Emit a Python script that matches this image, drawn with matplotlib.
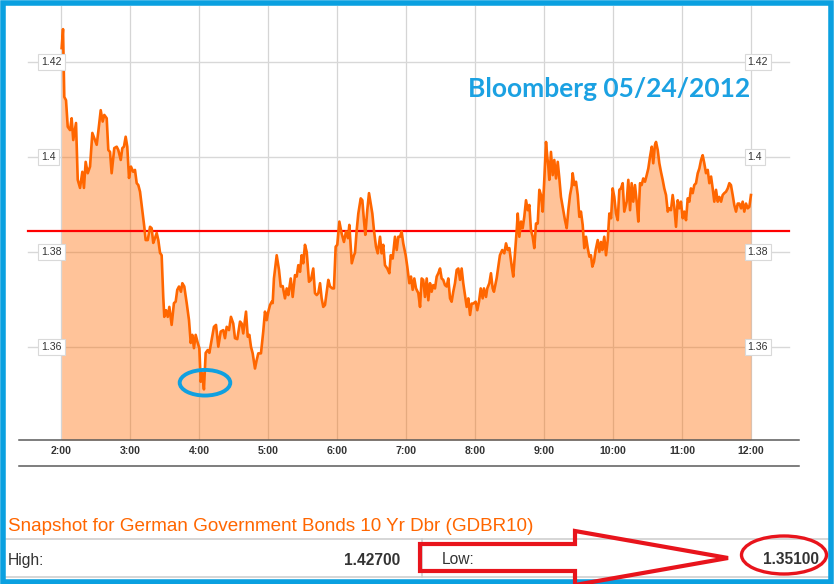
import matplotlib
matplotlib.use("Agg")
import matplotlib.pyplot as plt
from matplotlib.patches import Ellipse, Polygon, Rectangle
from matplotlib.lines import Line2D
from matplotlib.transforms import blended_transform_factory

plt.rcParams['font.family'] = ['Liberation Sans', 'DejaVu Sans']

# ---------------- data ----------------
minutes_after_2 = [
    0.3, 1.5, 2.6, 4.1, 5.6, 7.6, 9.0, 10.4, 12.8, 14.3,
    16.3, 18.3, 19.7, 21.2, 23.0, 25.0, 27.0, 28.7, 30.8, 32.2,
    34.3, 36.0, 37.4, 39.5, 40.9, 42.4, 43.8, 46.1, 48.2, 49.6,
    51.7, 53.1, 54.5, 56.0, 57.4, 58.9, 60.6, 62.6, 64.1, 65.6,
    67.0, 68.5, 70.5, 72.2, 73.4, 75.2, 77.2, 78.6, 80.0, 81.5,
    83.0, 84.4, 85.9, 87.3, 88.7, 89.6, 91.1, 92.6, 94.0, 96.0,
    98.0, 99.5, 100.9, 102.4, 104.1, 105.3, 107.0, 109.1, 111.1, 112.6,
    114.0, 115.4, 116.9, 118.7, 120.1, 121.3, 122.7, 124.1, 125.6, 127.4,
    128.8, 130.8, 132.8, 134.6, 136.6, 138.7, 140.9, 142.4, 143.9, 145.9,
    147.6, 149.6, 151.1, 153.1, 155.5, 156.9, 158.3, 160.7, 162.2, 163.6,
    165.0, 166.5, 168.5, 170.0, 171.4, 173.7, 175.7, 177.2, 178.7, 180.1,
    181.6, 183.1, 183.9, 185.0, 187.4, 189.4, 190.9, 192.6, 194.6, 196.1,
    197.5, 199.6, 201.3, 203.3, 204.8, 206.2, 207.7, 209.1, 210.5, 212.0,
    213.5, 215.5, 217.2, 219.2, 220.7, 222.2, 223.6, 225.1, 226.5, 227.9,
    229.4, 230.9, 232.3, 233.8, 235.8, 237.2, 238.7, 240.1, 241.9, 243.9,
    245.9, 247.7, 249.4, 250.6, 252.7, 254.6, 255.5, 257.0, 258.4, 260.5,
    261.9, 263.3, 264.5, 266.2, 267.7, 269.2, 270.6, 272.0, 273.8, 275.3,
    277.3, 278.7, 280.1, 281.6, 283.6, 285.4, 286.6, 288.3, 290.3, 291.8,
    293.2, 294.7, 296.1, 297.5, 299.6, 301.0, 302.8, 304.2, 305.7, 307.1,
    308.6, 310.6, 312.1, 313.5, 314.9, 316.4, 317.9, 319.3, 320.8, 322.2,
    323.6, 325.1, 326.6, 328.0, 329.5, 330.9, 332.3, 333.8, 335.3, 336.7,
    338.2, 339.6, 341.0, 342.5, 344.0, 345.4, 346.9, 348.3, 349.7, 351.2,
    352.7, 354.1, 355.6, 357.0, 358.4, 360.5, 361.9, 363.4, 364.9, 366.6,
    367.7, 369.5, 370.6, 372.4, 373.8, 375.3, 376.4, 377.9, 378.8, 381.6,
    383.6, 385.4, 386.9, 388.4, 389.8, 391.9, 393.2, 394.7, 396.2, 397.1,
    398.5, 400.0, 401.4, 402.8, 404.3, 405.8, 407.2, 408.6, 410.1, 411.5,
    413.0, 414.5, 415.9, 417.3, 418.8, 420.2, 421.7, 422.8, 423.7, 424.6,
    426.0, 427.5, 428.9, 430.4, 431.9, 433.3, 434.7, 436.7, 438.2, 439.7,
    441.1, 442.6, 444.0, 444.9, 446.3, 447.8, 449.3, 450.7, 452.1, 453.6,
    455.0, 456.5, 458.0, 459.4, 460.8, 462.0, 463.4, 464.9, 466.7, 468.1,
    469.5, 470.7, 472.4, 473.9, 475.4, 476.8, 478.3, 479.7, 481.1, 482.6,
    484.1, 485.5, 486.9, 488.4, 489.8, 491.9, 493.3, 494.8, 496.2, 497.6,
    499.1, 500.6, 502.0, 503.5, 504.9, 506.3, 507.8, 509.3, 510.7, 512.2,
    513.7, 515.0, 516.5, 517.4, 518.9, 520.3, 521.7, 523.2, 524.6, 526.1,
    527.6, 529.0, 530.4, 531.9, 533.3, 534.8, 536.3, 537.7, 539.1, 540.6,
    542.0, 543.5, 545.0, 546.4, 547.8, 549.3, 550.7, 552.2, 553.7, 555.1,
    556.6, 558.0, 559.4, 560.9, 562.4, 563.8, 565.3, 566.7, 568.1, 569.6,
    571.1, 572.5, 574.0, 575.4, 576.8, 578.3, 579.8, 581.2, 582.6, 584.1,
    585.5, 587.0, 588.5, 589.9, 591.4, 592.8, 594.2, 595.7, 597.2, 598.6, 600.0,
]

yields = [
    1.4230, 1.4270, 1.4127, 1.4120, 1.4064, 1.4057, 1.4082, 1.4036, 1.4072, 1.3952,
    1.3935, 1.3969, 1.3935, 1.3990, 1.3966, 1.3980, 1.4051, 1.4040, 1.4026, 1.4054,
    1.4099, 1.4075, 1.4089, 1.4082, 1.4015, 1.4011, 1.3966, 1.4019, 1.4022, 1.4015,
    1.3994, 1.4019, 1.4022, 1.4043, 1.4022, 1.3956, 1.3980, 1.3969, 1.3973, 1.3945,
    1.3941, 1.3927, 1.3888, 1.3853, 1.3825, 1.3825, 1.3853, 1.3850, 1.3819, 1.3829,
    1.3840, 1.3825, 1.3798, 1.3793, 1.3705, 1.3663, 1.3677, 1.3663, 1.3684, 1.3646,
    1.3692, 1.3695, 1.3720, 1.3727, 1.3716, 1.3734, 1.3727, 1.3692, 1.3656, 1.3608,
    1.3625, 1.3597, 1.3625, 1.3608, 1.3597, 1.3526, 1.3544, 1.3510, 1.3587, 1.3593,
    1.3587, 1.3614, 1.3642, 1.3646, 1.3600, 1.3632, 1.3635, 1.3618, 1.3642, 1.3635,
    1.3663, 1.3649, 1.3618, 1.3616, 1.3653, 1.3649, 1.3628, 1.3674, 1.3621, 1.3625,
    1.3600, 1.3586, 1.3554, 1.3572, 1.3586, 1.3586, 1.3632, 1.3674, 1.3656, 1.3674,
    1.3688, 1.3695, 1.3692, 1.3744, 1.3793, 1.3762, 1.3727, 1.3728, 1.3702, 1.3723,
    1.3709, 1.3744, 1.3705, 1.3751, 1.3748, 1.3772, 1.3758, 1.3793, 1.3776, 1.3815,
    1.3800, 1.3737, 1.3741, 1.3765, 1.3713, 1.3709, 1.3713, 1.3734, 1.3702, 1.3684,
    1.3688, 1.3716, 1.3741, 1.3727, 1.3723, 1.3723, 1.3811, 1.3815, 1.3864, 1.3839,
    1.3821, 1.3843, 1.3829, 1.3857, 1.3776, 1.3793, 1.3798, 1.3846, 1.3881, 1.3913,
    1.3909, 1.3867, 1.3836, 1.3888, 1.3924, 1.3902, 1.3881, 1.3846, 1.3811, 1.3797,
    1.3832, 1.3797, 1.3815, 1.3772, 1.3765, 1.3755, 1.3793, 1.3786, 1.3832, 1.3804,
    1.3832, 1.3832, 1.3843, 1.3818, 1.3793, 1.3769, 1.3734, 1.3748, 1.3720, 1.3744,
    1.3723, 1.3713, 1.3684, 1.3744, 1.3741, 1.3705, 1.3744, 1.3698, 1.3734, 1.3716,
    1.3730, 1.3723, 1.3748, 1.3755, 1.3765, 1.3744, 1.3741, 1.3730, 1.3727, 1.3744,
    1.3702, 1.3695, 1.3716, 1.3734, 1.3762, 1.3765, 1.3741, 1.3765, 1.3734, 1.3709,
    1.3684, 1.3702, 1.3667, 1.3691, 1.3691, 1.3695, 1.3677, 1.3695, 1.3723, 1.3702,
    1.3723, 1.3705, 1.3723, 1.3734, 1.3755, 1.3723, 1.3716, 1.3734, 1.3745, 1.3793,
    1.3804, 1.3797, 1.3818, 1.3804, 1.3808, 1.3769, 1.3748, 1.3797, 1.3846, 1.3881,
    1.3832, 1.3864, 1.3850, 1.3874, 1.3909, 1.3888, 1.3899, 1.3846, 1.3832, 1.3808,
    1.3860, 1.3860, 1.3931, 1.3920, 1.3885, 1.3952, 1.4032, 1.4001, 1.3980, 1.3952,
    1.4011, 1.3962, 1.3994, 1.3955, 1.3990, 1.3955, 1.3916, 1.3888, 1.3867, 1.3850,
    1.3888, 1.3920, 1.3938, 1.3966, 1.3941, 1.3948, 1.3920, 1.3874, 1.3885, 1.3857,
    1.3808, 1.3832, 1.3808, 1.3790, 1.3793, 1.3769, 1.3779, 1.3804, 1.3825, 1.3800,
    1.3821, 1.3804, 1.3832, 1.3793, 1.3825, 1.3881, 1.3871, 1.3934, 1.3916, 1.3881,
    1.3867, 1.3931, 1.3934, 1.3945, 1.3885, 1.3906, 1.3952, 1.3888, 1.3945, 1.3906,
    1.3941, 1.3906, 1.3864, 1.3945, 1.3941, 1.3955, 1.3948, 1.3962, 1.3976, 1.4001,
    1.4022, 1.3987, 1.4026, 1.4032, 1.4015, 1.3987, 1.3969, 1.3952, 1.3934, 1.3920,
    1.3885, 1.3892, 1.3888, 1.3920, 1.3895, 1.3853, 1.3909, 1.3892, 1.3906, 1.3871,
    1.3885, 1.3867, 1.3913, 1.3906, 1.3934, 1.3924, 1.3941, 1.3945, 1.3966, 1.3976,
    1.3994, 1.4004, 1.3987, 1.3966, 1.3973, 1.3945, 1.3959, 1.3934, 1.3906, 1.3931,
    1.3906, 1.3916, 1.3906, 1.3920, 1.3924, 1.3927, 1.3934, 1.3945, 1.3941, 1.3920,
    1.3899, 1.3885, 1.3902, 1.3902, 1.3892, 1.3906, 1.3885, 1.3902, 1.3892, 1.3895, 1.3920,
]

tick_minutes = [0, 60, 120, 180, 240, 300, 360, 420, 480, 540, 600]
tick_labels = ['2:00', '3:00', '4:00', '5:00', '6:00', '7:00', '8:00',
               '9:00', '10:00', '11:00', '12:00']
grid_levels = [1.36, 1.38, 1.40, 1.42]
grid_labels = ['1.36', '1.38', '1.4', '1.42']
ref_level = 1.3844           # red horizontal reference line
low_mark = (125.0, 1.3524)   # blue ellipse around session low
session_high = '1.42700'
session_low = '1.35100'
title_text = 'Bloomberg 05/24/2012'
snapshot_text = 'Snapshot for German Government Bonds 10 Yr Dbr (GDBR10)'

# ---------------- figure ----------------
W, H = 836, 584
fig = plt.figure(figsize=(W / 100, H / 100), dpi=100)
fig.patch.set_facecolor('white')


def fx(px):
    return px / W


def fy(py):
    return 1 - py / H


ax = fig.add_axes([fx(19), fy(440), (799 - 19) / W, (440 - 6) / H])
ax.set_facecolor('white')
ax.set_xlim(-36.8, 641.8)
ax.set_ylim(1.34032, 1.43188)
ybot = ax.get_ylim()[0]

for s in ['top', 'left', 'right']:
    ax.spines[s].set_visible(False)
ax.spines['bottom'].set_color('#5a5a5a')
ax.spines['bottom'].set_linewidth(1.1)

# grid
for m in tick_minutes:
    ax.axvline(m, color='#d5d5d5', lw=0.9, zorder=1)
gx0, gx1 = (28 - 19) / 780, (789 - 19) / 780
for v in grid_levels:
    ax.axhline(v, xmin=gx0, xmax=gx1, color='#d8d8d8', lw=1.0, zorder=1)

# area + line
ax.fill_between(minutes_after_2, yields, ybot, color='#ff6a00', alpha=0.40,
                lw=0, zorder=2)
ax.plot(minutes_after_2, yields, color='#ff6600', lw=1.9, zorder=4,
        solid_joinstyle='round')

# red reference line
ax.axhline(ref_level, xmin=gx0, xmax=gx1, color='#ff0000', lw=1.6, zorder=3)

# blue ellipse at the low
ax.add_patch(Ellipse(low_mark, width=44, height=0.0054, fill=False,
                     ec='#10a0e0', lw=2.8, zorder=6))

# x ticks
ax.set_xticks(tick_minutes)
ax.set_xticklabels(tick_labels)
ax.tick_params(axis='x', length=0, pad=4.2, labelsize=7.6, labelcolor='#333333')
for lab in ax.get_xticklabels():
    lab.set_fontweight('bold')
ax.set_yticks([])

# boxed y labels on both sides
bt = blended_transform_factory(ax.transAxes, ax.transData)
for v, lab in zip(grid_levels, grid_labels):
    for xa in [(41.5 - 19) / 780, (747.7 - 19) / 780]:
        ax.text(xa, v, lab, transform=bt, ha='left', va='center',
                fontsize=7.6, color='#333333', zorder=7,
                bbox=dict(boxstyle='square,pad=0.3', fc='white',
                          ec='#d9d9d9', lw=0.8))

# second rule under tick labels
fig.add_artist(Line2D([fx(19), fx(799)], [fy(466), fy(466)],
                      color='#5a5a5a', lw=1.1))

# title inside chart
t_title = fig.text(fx(468), fy(96.7), title_text, family=['Lato', 'DejaVu Sans'],
                   fontweight='bold', color='#1ba1e2', fontsize=20,
                   ha='left', va='baseline')

# bottom snapshot panel
t_snap = fig.text(fx(8), fy(530.7), snapshot_text, color='#ff6600',
                  fontsize=12.5, ha='left', va='baseline')
fig.add_artist(Line2D([fx(6), fx(828)], [fy(539), fy(539)], color='#cccccc', lw=1.1))
fig.add_artist(Line2D([fx(6), fx(828)], [fy(577), fy(577)], color='#cccccc', lw=1.1))
fig.add_artist(Line2D([fx(422), fx(422)], [fy(539), fy(577)], color='#cccccc', lw=1.1))

t_hl = fig.text(fx(8), fy(565), 'High:', color='#333333', fontsize=11.4,
                ha='left', va='baseline')
t_hv = fig.text(fx(400), fy(565), session_high, color='#333333', fontsize=11.4,
                fontweight='bold', ha='right', va='baseline')
t_ll = fig.text(fx(441.5), fy(564.5), 'Low:', color='#333333', fontsize=11.4,
                ha='left', va='baseline')
t_lv = fig.text(fx(819.5), fy(564.5), session_low, color='#333333', fontsize=11.4,
                fontweight='bold', ha='right', va='baseline')

# fit text widths to the reference
fig.canvas.draw()
r = fig.canvas.get_renderer()
for t, target in [(t_title, 283), (t_snap, 524), (t_hv, 57), (t_lv, 57)]:
    for _ in range(2):
        bb = t.get_window_extent(r)
        t.set_fontsize(t.get_fontsize() * target / bb.width)
t_hl.set_fontsize(t_hv.get_fontsize())
t_ll.set_fontsize(t_hv.get_fontsize())

# red arrow and red ellipse
arrow_px = [(420, 544), (575, 544), (575, 531), (728, 558), (575, 585),
            (575, 571), (420, 571)]
fig.add_artist(Polygon([(fx(x), fy(y)) for x, y in arrow_px], closed=True,
                       fill=False, ec='#e8141c', lw=3.0,
                       transform=fig.transFigure, zorder=10))
fig.add_artist(Ellipse((fx(784), fy(555)), width=85 / W, height=38 / H,
                       fill=False, ec='#e8141c', lw=2.4,
                       transform=fig.transFigure, zorder=10))

# blue frame
fig.add_artist(Rectangle((fx(2.75), fy(581.5)), (831 - 2.75) / W, (581.5 - 3) / H,
                         fill=False, ec='#0aa0e0', lw=4.0,
                         transform=fig.transFigure, zorder=9))

fig.savefig('out.png', dpi=100)
